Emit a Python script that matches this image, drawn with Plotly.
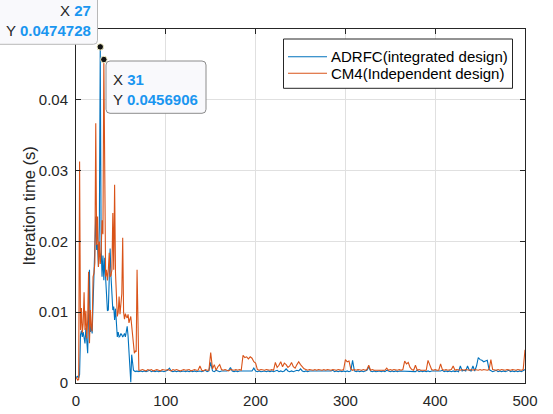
import plotly.graph_objects as go

# ---------------------------------------------------------------------------
# Iteration index: every iteration during start-up, every 2nd one afterwards
# ---------------------------------------------------------------------------
iter_head = list(range(0, 71))
iter_tail = list(range(72, 501, 2))

# ADRFC (integrated design) – iteration time in milliseconds
adrfc_head_ms = [
    0.9, 0.8, 1.0, 0.7, 1.2, 6.8, 7.4, 6.5, 7.2, 6.0,
    5.6, 7.8, 6.4, 4.2, 9.5, 16.0, 7.2, 8.0, 7.0, 10.5,
    15.0, 19.0, 23.5, 18.8, 19.6, 16.4, 22.0, 47.4728, 19.3, 15.0,
    18.0, 14.5, 17.7, 14.8, 11.6, 10.2, 10.3, 17.8, 19.0, 15.0,
    12.2, 10.3, 10.8, 8.9, 10.5, 8.0, 6.5, 7.2, 6.5, 6.6,
    7.0, 6.8, 6.5, 6.7, 7.0, 6.5, 7.2, 8.0, 6.6, 4.2,
    2.8, 0.1, 4.0, 2.2, 1.8, 1.7, 1.6, 1.7, 1.6, 1.7,
    1.6,
]
adrfc_tail_ms = [
    1.7, 1.6, 1.7, 1.6, 1.7, 1.8, 1.6, 1.7, 1.6, 1.7,
    1.6, 1.7, 1.7, 1.6, 1.7, 1.8, 2.1, 1.7, 1.6, 1.7,
    1.6, 1.7, 1.6, 1.7, 1.7, 1.6, 1.7, 1.6, 1.7, 1.6,
    1.7, 1.6, 1.7, 1.7, 1.6, 1.7, 1.8, 1.6, 1.7, 2.9,
    1.7, 1.6, 1.8, 1.7, 1.6, 1.7, 1.7, 1.6, 1.7, 1.8,
    2.2, 1.7, 1.6, 1.7, 1.6, 1.7, 1.7, 1.6, 1.7, 1.6,
    1.7, 1.6, 1.7, 2.1, 1.7, 1.6, 1.7, 1.6, 1.7, 1.7,
    1.6, 1.7, 1.6, 1.7, 1.6, 1.7, 1.8, 1.6, 1.7, 1.6,
    1.7, 2.0, 1.7, 1.6, 1.7, 1.6, 1.7, 1.8, 1.7, 2.0,
    1.7, 1.6, 1.7, 1.6, 1.7, 1.7, 1.6, 1.7, 1.6, 1.7,
    1.6, 1.7, 1.7, 1.6, 1.7, 1.6, 1.7, 1.8, 1.6, 1.7,
    1.6, 1.7, 1.6, 1.7, 1.6, 1.7, 1.6, 1.7, 3.2, 1.7,
    1.6, 1.7, 1.6, 1.7, 1.6, 1.7, 1.8, 2.3, 1.7, 1.6,
    1.7, 1.6, 1.7, 1.7, 1.6, 1.7, 1.6, 1.8, 1.7, 1.6,
    1.7, 1.6, 1.7, 1.6, 1.7, 1.7, 1.6, 1.7, 1.6, 1.7,
    1.6, 1.7, 1.7, 1.6, 1.8, 1.6, 1.7, 1.6, 1.7, 1.6,
    1.7, 1.6, 1.7, 1.7, 1.6, 1.7, 1.6, 1.7, 1.8, 1.6,
    1.7, 1.6, 1.7, 1.6, 1.7, 1.6, 1.7, 1.6, 2.4, 1.7,
    1.8, 1.7, 2.4, 1.8, 1.7, 2.4, 1.7, 2.4, 3.6, 3.3,
    3.2, 3.0, 3.1, 3.2, 1.9, 1.7, 1.6, 1.7, 1.8, 1.6,
    1.7, 1.6, 1.7, 1.6, 1.7, 1.8, 1.6, 1.7, 1.6, 1.7,
    1.6, 1.7, 1.6, 1.7, 1.9,
]

# CM4 (Independent design) – iteration time in milliseconds
cm4_head_ms = [
    0.8, 0.6, 0.4, 0.5, 31.3, 7.5, 10.6, 7.1, 8.4, 12.8,
    7.5, 10.2, 6.3, 8.9, 15.7, 5.6, 10.3, 8.0, 7.3, 15.0,
    15.5, 17.0, 36.7, 19.5, 23.5, 16.4, 20.0, 16.8, 18.5, 23.0,
    21.0, 45.6906, 23.5, 15.0, 16.0, 14.5, 16.0, 18.4, 15.0, 15.2,
    16.0, 24.0, 16.0, 28.0, 15.5, 11.3, 9.4, 10.0, 12.2, 9.7,
    11.5, 12.6, 20.5, 10.0, 9.0, 9.8, 9.4, 9.2, 9.7, 8.5,
    9.0, 9.4, 8.1, 7.0, 5.6, 4.2, 4.5, 4.4, 16.0, 9.0,
    1.8,
]
cm4_tail_ms = [
    1.8, 1.9, 1.8, 1.7, 1.9, 1.8, 1.9, 1.7, 1.8, 1.9,
    1.8, 1.7, 1.9, 1.8, 1.8, 1.9, 1.8, 1.7, 1.9, 1.8,
    1.9, 1.8, 1.7, 1.8, 1.9, 1.8, 1.8, 1.9, 1.7, 1.8,
    1.9, 1.8, 1.8, 2.4, 1.8, 1.7, 1.9, 1.8, 1.8, 4.3,
    2.0, 2.6, 1.8, 2.3, 2.6, 1.9, 1.8, 1.9, 1.8, 1.7,
    1.9, 1.8, 1.8, 1.9, 1.8, 1.9, 1.8, 3.9, 3.6, 3.7,
    3.4, 3.7, 3.5, 3.0, 2.8, 1.9, 1.8, 1.9, 1.8, 1.8,
    1.9, 1.8, 1.8, 1.9, 1.8, 2.9, 2.2, 2.5, 3.0, 2.3,
    2.8, 2.6, 2.2, 2.4, 2.9, 2.3, 2.1, 2.6, 3.0, 2.6,
    2.3, 2.0, 1.9, 1.8, 1.9, 1.8, 1.8, 1.9, 1.8, 1.9,
    1.8, 1.8, 1.9, 1.8, 1.9, 1.8, 1.8, 1.9, 1.8, 1.8,
    1.9, 1.8, 1.8, 1.9, 3.3, 3.0, 3.1, 2.0, 1.8, 1.9,
    1.8, 1.9, 1.8, 1.8, 1.9, 1.8, 1.9, 2.5, 1.8, 1.9,
    1.8, 1.8, 1.9, 1.8, 1.9, 1.8, 1.8, 2.1, 1.8, 1.9,
    1.8, 1.9, 1.8, 1.8, 1.9, 1.8, 1.9, 3.1, 2.7, 2.9,
    2.2, 1.9, 1.8, 2.5, 1.8, 1.9, 1.8, 1.8, 1.9, 1.8,
    3.2, 2.6, 1.9, 1.8, 1.9, 1.8, 1.8, 2.7, 1.9, 1.8,
    1.9, 1.8, 1.8, 1.9, 2.4, 1.8, 1.9, 1.8, 1.8, 1.9,
    1.8, 1.9, 1.8, 1.8, 1.9, 1.8, 1.9, 1.8, 1.8, 1.9,
    1.8, 1.9, 1.8, 1.8, 1.9, 3.3, 1.9, 1.8, 1.8, 1.9,
    1.8, 1.9, 1.8, 1.8, 1.9, 1.8, 1.8, 1.9, 1.8, 1.8,
    1.9, 1.8, 1.8, 1.9, 4.7,
]

series_names = ["ADRFC(integrated design)", "CM4(Independent design)"]
series_colors = ["#0072BD", "#D95319"]

x_ticks = [0, 100, 200, 300, 400, 500]
y_ticks = [0, 0.01, 0.02, 0.03, 0.04]
y_tick_text = ["0", "0.01", "0.02", "0.03", "0.04"]

# Data-tip iterations (one per series)
tip_iters = [27, 31]

# ---------------------------------------------------------------------------
iters = iter_head + iter_tail
adrfc_s = [v / 1000 for v in adrfc_head_ms + adrfc_tail_ms]
cm4_s = [v / 1000 for v in cm4_head_ms + cm4_tail_ms]
series = [adrfc_s, cm4_s]

W, H = 553, 414
L, R, T, B = 76, 28, 29, 31
PW, PH = W - L - R, H - T - B
FONT = "Liberation Sans, Arial, Helvetica, sans-serif"
INK = "#262626"
TIP_BLUE = "#1A96F0"


def px(xp):
    return (xp - L) / PW


def py(yp):
    return (H - B - yp) / PH


def rounded_box(x0, y0, x1, y1, r):
    return (
        f"M {px(x0 + r)},{py(y0)} L {px(x1 - r)},{py(y0)} "
        f"Q {px(x1)},{py(y0)} {px(x1)},{py(y0 + r)} "
        f"L {px(x1)},{py(y1 - r)} Q {px(x1)},{py(y1)} {px(x1 - r)},{py(y1)} "
        f"L {px(x0 + r)},{py(y1)} Q {px(x0)},{py(y1)} {px(x0)},{py(y1 - r)} "
        f"L {px(x0)},{py(y0 + r)} Q {px(x0)},{py(y0)} {px(x0 + r)},{py(y0)} Z"
    )


fig = go.Figure()

for name, color, ys in zip(series_names, series_colors, series):
    fig.add_trace(go.Scatter(
        x=iters, y=ys, mode="lines", name=name,
        line=dict(color=color, width=1.1), showlegend=False,
    ))

# data-tip markers, taken from the series themselves
tip_vals = [series[k][iters.index(it)] for k, it in enumerate(tip_iters)]
fig.add_trace(go.Scatter(
    x=tip_iters, y=tip_vals, mode="markers", showlegend=False,
    marker=dict(color="#111111", size=6.5, line=dict(color="#F4F0C8", width=1)),
    hoverinfo="skip", cliponaxis=False,
))

shapes = []
annotations = []

# data-tip boxes
tip_boxes = [(-12, -12, 97.5, 44.3), (106, 61, 206, 113.3)]
tip_borders = ["#B8B8B8", "#8C8C8C"]
for (x0, y0, x1, y1), bc in zip(tip_boxes, tip_borders):
    shapes.append(dict(type="path", path=rounded_box(x0, y0, x1, y1, 4),
                       xref="paper", yref="paper", layer="above",
                       fillcolor="#F9F9FC", line=dict(color=bc, width=1)))


def tip_text(it, val):
    return (f"X <b><span style='color:{TIP_BLUE}'>{it}</span></b><br>"
            f"Y <b><span style='color:{TIP_BLUE}'>{val:.7f}</span></b>")


annotations.append(dict(
    text=tip_text(tip_iters[0], tip_vals[0]), xref="paper", yref="paper",
    x=px(92.5), y=py(20.5), xanchor="right", yanchor="middle", align="right",
    showarrow=False, font=dict(family=FONT, size=15, color=INK),
))
annotations.append(dict(
    text=tip_text(tip_iters[1], tip_vals[1]), xref="paper", yref="paper",
    x=px(110.5), y=py(89), xanchor="left", yanchor="middle", align="left",
    showarrow=False, font=dict(family=FONT, size=15, color=INK),
))

# legend box
shapes.append(dict(type="rect", xref="paper", yref="paper", layer="above",
                   x0=px(283.5), x1=px(512.5), y0=py(39), y1=py(88.3),
                   fillcolor="white", line=dict(color=INK, width=1)))
for i, (name, color) in enumerate(zip(series_names, series_colors)):
    yrow = 56.7 + i * 16.6
    shapes.append(dict(type="line", xref="paper", yref="paper", layer="above",
                       x0=px(288), x1=px(327), y0=py(yrow), y1=py(yrow),
                       line=dict(color=color, width=1.1)))
    annotations.append(dict(
        text=name, xref="paper", yref="paper", x=px(329), y=py(yrow),
        xanchor="left", yanchor="middle", showarrow=False,
        font=dict(family=FONT, size=15, color="#000000"),
    ))

# y-axis title
annotations.append(dict(
    text="Iteration time (s)", xref="paper", yref="paper",
    x=px(28.5), y=0.5, xanchor="center", yanchor="middle", textangle=-90,
    showarrow=False, font=dict(family=FONT, size=16.5, color=INK),
))

axis_common = dict(
    automargin=False,
    showline=True, linecolor=INK, linewidth=1, mirror="allticks",
    ticks="inside", ticklen=5, tickcolor=INK, tickwidth=1,
    showgrid=True, gridcolor="#E0E0E0", gridwidth=1, zeroline=False,
    tickfont=dict(family=FONT, size=15, color=INK),
)

fig.update_layout(
    template="none",
    width=W, height=H,
    margin=dict(l=L, r=R, t=T, b=B, pad=0),
    paper_bgcolor="white", plot_bgcolor="white",
    font=dict(family=FONT, color=INK),
    xaxis=dict(range=[0, 500], tickvals=x_ticks, ticklabelstandoff=4, **axis_common),
    yaxis=dict(range=[0, 0.05], tickvals=y_ticks, ticktext=y_tick_text,
               ticklabelstandoff=4, **axis_common),
    shapes=shapes, annotations=annotations,
    showlegend=False,
)

fig.write_html("out.html")
